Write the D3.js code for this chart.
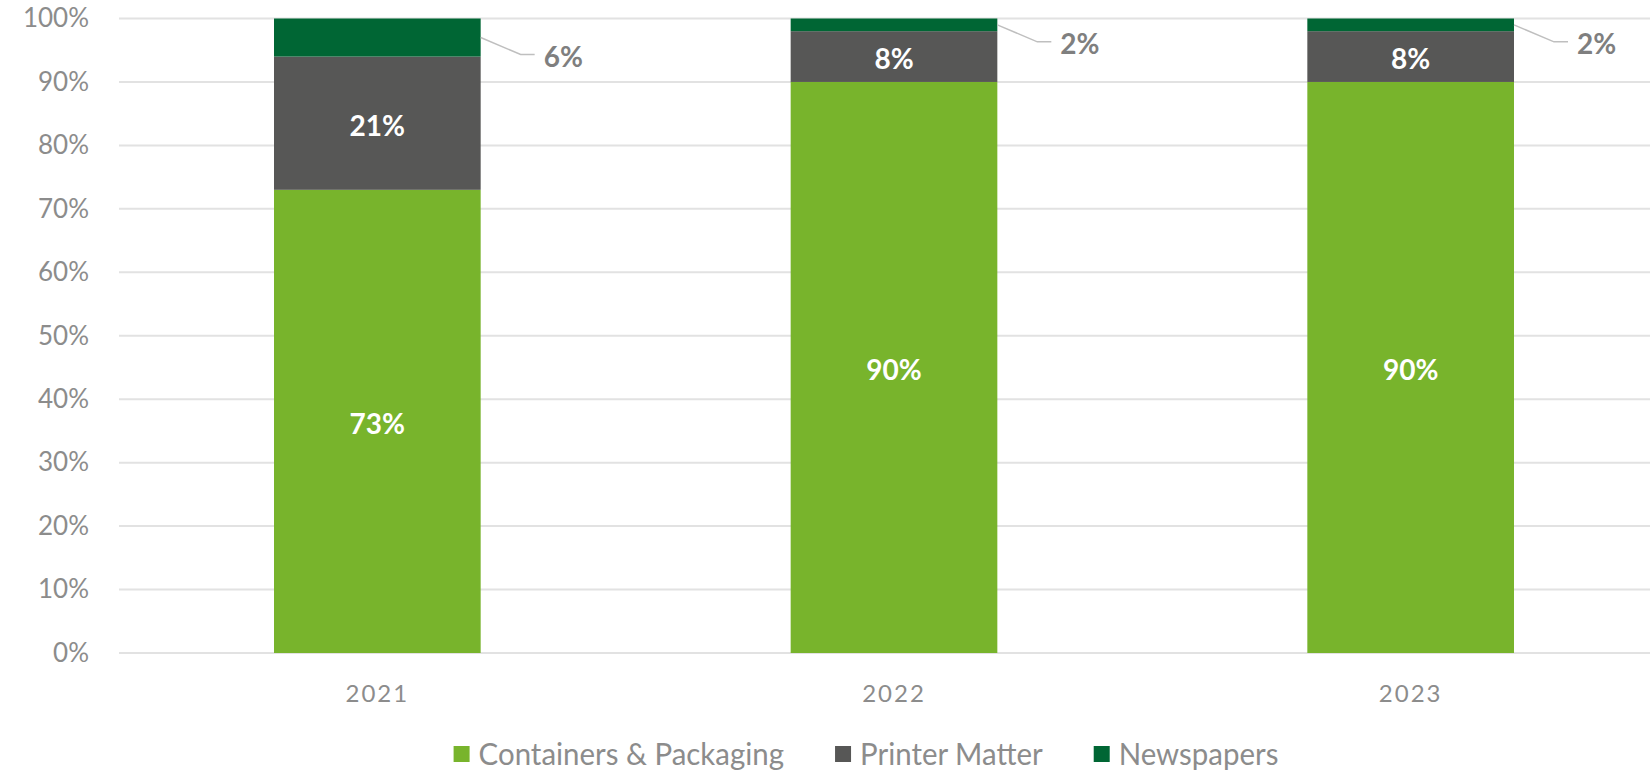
<!DOCTYPE html>
<html>
<head>
<meta charset="utf-8">
<script src="https://cdn.jsdelivr.net/npm/d3@7"></script>
<style>
  html, body { margin: 0; padding: 0; background: #ffffff; }
  svg { display: block; }
</style>
</head>
<body>
<div id="chart"></div>
<script>
// chart data
const years = ["2021", "2022", "2023"];
const containers = [73, 90, 90];
const printer = [21, 8, 8];
const newspapers = [6, 2, 2];
const seriesNames = ["Containers & Packaging", "Printer Matter", "Newspapers"];
const yTicks = [0, 10, 20, 30, 40, 50, 60, 70, 80, 90, 100];

const colors = ["#78b42c", "#575756", "#006634"];

const width = 1650, height = 772;
const margin = {top: 18.5, left: 119, bottom: 119};

// build rows for d3.stack
const rows = years.map(function(y, i) {
    return {year: y, c: containers[i], p: printer[i], n: newspapers[i]};
});
const keys = ["c", "p", "n"];
const stacked = d3.stack().keys(keys)(rows);

let svg = d3.select("#chart")
    .append("svg")
    .attr("width", width)
    .attr("height", height);

// scales
const xScale = d3.scaleBand()
    .domain(years)
    .range([margin.left, margin.left + 1550])
    .paddingInner(0.6)
    .paddingOuter(0.3);

const yScale = d3.scaleLinear()
    .domain([0, 100])
    .range([height - margin.bottom, margin.top]);

// gridlines
svg.append("g")
    .selectAll("line")
    .data(yTicks)
    .join("line")
    .attr("x1", margin.left)
    .attr("x2", margin.left + 1550)
    .attr("y1", d => yScale(d))
    .attr("y2", d => yScale(d))
    .attr("stroke", "#e2e2e2")
    .attr("stroke-width", 2);

// y axis labels
const yAxis = svg.append("g")
    .attr("transform", "translate(" + (margin.left - 30) + ",0)")
    .call(d3.axisLeft(yScale).tickValues(yTicks).tickFormat(d => d + "%").tickSize(0).tickPadding(0));
yAxis.select(".domain").remove();
yAxis.selectAll("text")
    .attr("font-family", "Lato, 'Open Sans', sans-serif")
    .attr("font-size", 26)
    .attr("fill", "#8c8c8c");

// x axis labels
const xAxis = svg.append("g")
    .attr("transform", "translate(0," + (height - margin.bottom) + ")")
    .call(d3.axisBottom(xScale).tickSize(0).tickPadding(32));
xAxis.select(".domain").remove();
xAxis.selectAll("text")
    .attr("font-family", "Lato, 'Open Sans', sans-serif")
    .attr("font-size", 24)
    .attr("letter-spacing", 2)
    .attr("fill", "#8c8c8c");

// bars
const layers = svg.append("g")
    .selectAll("g")
    .data(stacked)
    .join("g")
    .attr("fill", (d, i) => colors[i]);

layers.selectAll("rect")
    .data(d => d)
    .join("rect")
    .attr("x", d => xScale(d.data.year))
    .attr("width", xScale.bandwidth())
    .attr("y", d => yScale(d[1]))
    .attr("height", d => yScale(d[0]) - yScale(d[1]));

// inside labels (first two series)
stacked.slice(0, 2).forEach(function(layer) {
    svg.append("g")
        .selectAll("text")
        .data(layer)
        .join("text")
        .attr("x", d => xScale(d.data.year) + xScale.bandwidth() / 2)
        .attr("y", d => yScale((d[0] + d[1]) / 2))
        .attr("dy", "0.45em")
        .attr("text-anchor", "middle")
        .attr("font-family", "Lato, 'Open Sans', sans-serif")
        .attr("font-weight", "bold")
        .attr("font-size", 28)
        .attr("fill", "#ffffff")
        .text(d => (d[1] - d[0]) + "%");
});

// callout labels for newspapers
const topLayer = stacked[2];
const callouts = svg.append("g");
topLayer.forEach(function(d) {
    let bx = xScale(d.data.year) + xScale.bandwidth();
    let by = yScale((d[0] + d[1]) / 2);
    let ly = by + 17;
    callouts.append("path")
        .attr("d", "M" + bx + "," + by + "L" + (bx + 40) + "," + ly + "L" + (bx + 54) + "," + ly)
        .attr("fill", "none")
        .attr("stroke", "#bfbfbf")
        .attr("stroke-width", 1.5);
    callouts.append("text")
        .attr("x", bx + 63)
        .attr("y", ly)
        .attr("dy", "0.45em")
        .attr("font-family", "Lato, 'Open Sans', sans-serif")
        .attr("font-weight", "bold")
        .attr("font-size", 28)
        .attr("fill", "#7f7f7f")
        .text((d[1] - d[0]) + "%");
});

// legend
const legend = svg.append("g").attr("transform", "translate(0,754)");
const items = legend.selectAll("g")
    .data(seriesNames)
    .join("g");
items.append("rect")
    .attr("width", 16)
    .attr("height", 16)
    .attr("y", -8)
    .attr("fill", (d, i) => colors[i]);
// legend text is tall and narrow in the original, so squeeze it a bit
items.append("text")
    .attr("transform", "translate(25,0) scale(0.95,1)")
    .attr("dy", "0.34em")
    .attr("font-family", "Lato, 'Open Sans', sans-serif")
    .attr("font-size", 31)
    .attr("fill", "#8c8c8c")
    .text(d => d);

// lay legend items out from their measured widths, centred on the plot
let gap = 51;
let widths = [];
items.each(function() {
    let t = d3.select(this).select("text").node();
    widths.push(25 + t.getComputedTextLength() * 0.95);
});
let total = d3.sum(widths) + gap * (widths.length - 1);
let start = (margin.left + 1550 + margin.left) / 2 - total / 2 - 28;
let pos = start;
items.attr("transform", function(d, i) {
    let t = "translate(" + pos + ",0)";
    pos += widths[i] + gap;
    return t;
});
</script>
</body>
</html>
